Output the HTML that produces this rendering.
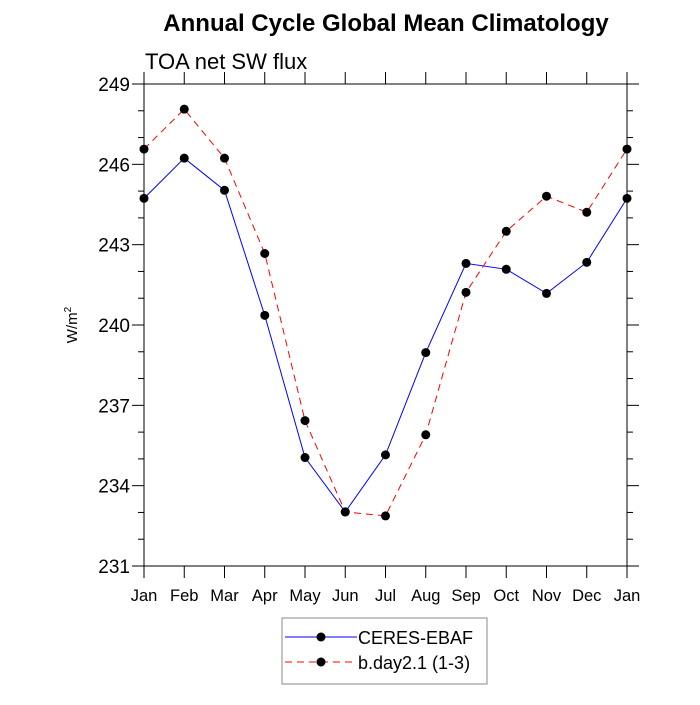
<!DOCTYPE html>
<html><head><meta charset="utf-8"><style>
body{margin:0;background:#fff}
svg text{font-family:"Liberation Sans",sans-serif}
</style></head><body>
<svg id="chart" width="700" height="700">
<text x="386" y="31" text-anchor="middle" font-size="24" font-weight="bold">Annual Cycle Global Mean Climatology</text>
<text x="145" y="69" font-size="22">TOA net SW flux</text>
<text transform="translate(77,325) rotate(-90)" text-anchor="middle" font-size="15">W/m<tspan dy="-6" font-size="10">2</tspan></text>
<g id="axes"></g>
<g id="series"></g>
<g>
<rect x="282" y="618" width="205" height="66" fill="#fff" stroke="#888"/>
<line x1="285" y1="637" x2="357" y2="637" stroke="#00f"/>
<circle cx="321" cy="637" r="4.5"/>
<text x="358" y="644" font-size="18">CERES-EBAF</text>
<line x1="285" y1="662" x2="357" y2="662" stroke="#f00" stroke-dasharray="7,5"/>
<circle cx="321" cy="662" r="4.5"/>
<text x="358" y="669" font-size="18">b.day2.1 (1-3)</text>
</g>
</svg>
<script>
const months=["Jan","Feb","Mar","Apr","May","Jun","Jul","Aug","Sep","Oct","Nov","Dec","Jan"];
const ceres=[244.73,246.23,245.03,240.36,235.05,233.02,235.15,238.97,242.30,242.08,241.18,242.34,244.73];
const model=[246.57,248.06,246.23,242.67,236.43,233.02,232.87,235.90,241.22,243.50,244.81,244.21,246.57];
const yTicks=[231,234,237,240,243,246,249];
const L=144,R=627,T=84,B=566,ymin=231,ymax=249;
const xs=i=>L+(R-L)*i/(months.length-1);
const ys=v=>B-(v-ymin)/(ymax-ymin)*(B-T);
const NS="http://www.w3.org/2000/svg";
function mk(tag,attrs,parent){const e=document.createElementNS(NS,tag);for(const k in attrs)e.setAttribute(k,attrs[k]);parent.appendChild(e);return e;}
const ax=document.getElementById('axes');
const frame=mk('rect',{x:L,y:T,width:R-L,height:B-T,fill:'none',stroke:'#000','stroke-width':1},ax);


for(let v=ymin;v<=ymax;v++){
  const maj=yTicks.includes(v);const len=maj?12:6;const y=ys(v);
  const t1=mk('line',{x1:L-len,y1:y,x2:L,y2:y,stroke:'#000'},ax);
  
  
  const t2=mk('line',{x1:R,y1:y,x2:R+len,y2:y,stroke:'#000'},ax);
  
  
}
yTicks.forEach(v=>{
  const t=mk('text',{x:L-14,y:ys(v)+7,'text-anchor':'end','font-size':19},ax);t.textContent=v;
  
  
});
months.forEach((m,i)=>{
  const x=xs(i);
  const a=mk('line',{x1:x,y1:B,x2:x,y2:B+12,stroke:'#000'},ax);
  
  
  const b=mk('line',{x1:x,y1:T-12,x2:x,y2:T,stroke:'#000'},ax);
  
  
  const t=mk('text',{x:x,y:B+35,'text-anchor':'middle','font-size':16.5},ax);t.textContent=m;
  
  
});
const sg=document.getElementById('series');
function drawSeries(vals,color,dash,name){
  const pts=vals.map((v,i)=>xs(i)+','+ys(v)).join(' ');
  const pl=mk('polyline',{points:pts,fill:'none',stroke:color,'stroke-width':1,'stroke-dasharray':dash},sg);
  
  
  vals.forEach((v,i)=>{
    const c=mk('circle',{cx:xs(i),cy:ys(v),r:4.5,fill:'#000'},sg);
    
    
  });
}
drawSeries(ceres,'#00f','none','ceres');
drawSeries(model,'#f00','7,5','model');
</script>
</body></html>
